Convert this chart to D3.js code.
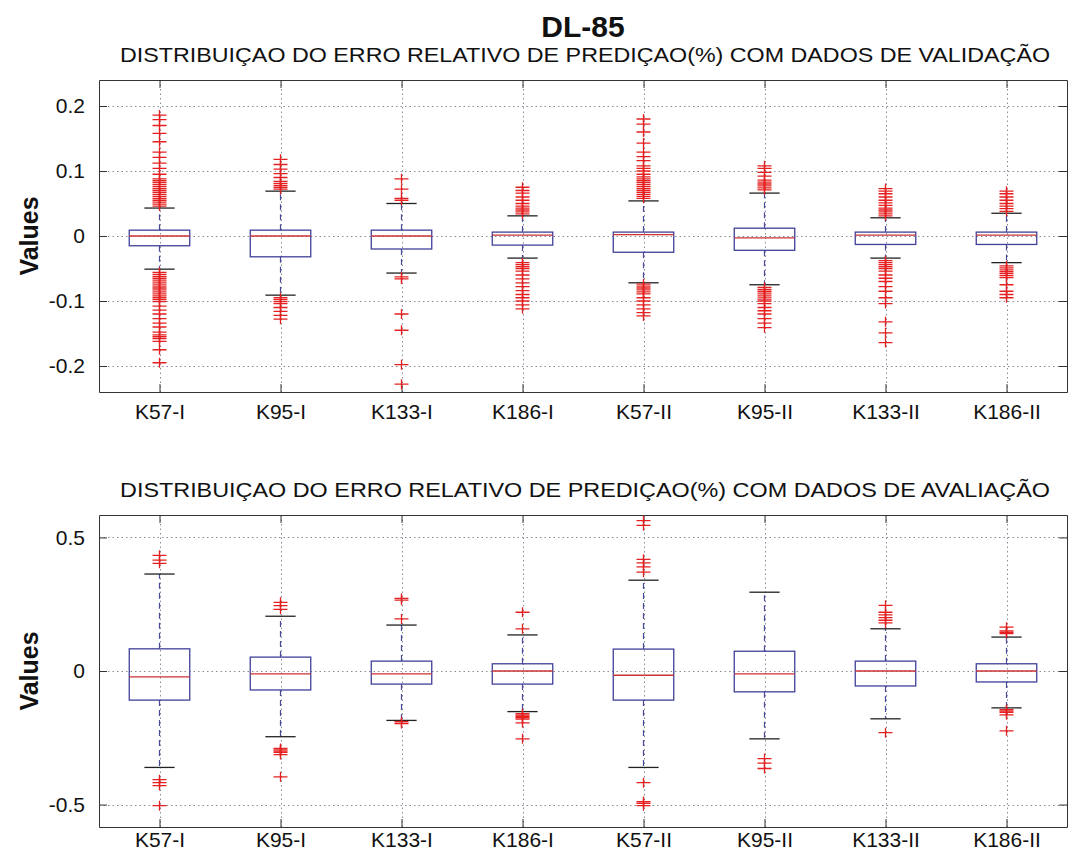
<!DOCTYPE html>
<html>
<head>
<meta charset="utf-8">
<script src="https://cdn.jsdelivr.net/npm/d3@7"></script>
<style>
  html, body { margin: 0; padding: 0; background: #fff; }
  svg { display: block; font-family: Arial, "Liberation Sans", sans-serif; }
</style>
</head>
<body>
<svg id="chart" width="1072" height="858"></svg>
<script>
// ---------- DATA ----------
const categories = ["K57-I", "K95-I", "K133-I", "K186-I", "K57-II", "K95-II", "K133-II", "K186-II"];

const titleText = "DL-85";
const topTitle = "DISTRIBUIÇAO DO ERRO RELATIVO DE PREDIÇAO(%) COM DADOS DE VALIDAÇÃO";
const botTitle = "DISTRIBUIÇAO DO ERRO RELATIVO DE PREDIÇAO(%) COM DADOS DE AVALIAÇÃO";
const yLabel = "Values";

// Top panel (validation)
const topTicks = [-0.2, -0.1, 0, 0.1, 0.2];
const topTickLabels = ["-0.2", "-0.1", "0", "0.1", "0.2"];
const topQ3  = [0.009, 0.009, 0.009, 0.006, 0.006, 0.012, 0.006, 0.006];
const topMed = [0.0, 0.0, 0.0, 0.0015, 0.002, -0.003, 0.0015, 0.0015];
const topQ1  = [-0.015, -0.032, -0.020, -0.014, -0.025, -0.022, -0.013, -0.013];
const topHi  = [0.043, 0.069, 0.050, 0.031, 0.054, 0.066, 0.028, 0.035];
const topLo  = [-0.051, -0.091, -0.057, -0.034, -0.072, -0.075, -0.034, -0.041];
const topOut = [
  [0.046,0.049,0.052,0.055,0.058,0.061,0.064,0.067,0.070,0.073,0.076,0.079,0.082,0.085,0.088,0.095,0.104,0.112,0.121,0.129,0.145,0.158,0.170,0.179,0.186,
   -0.056,-0.059,-0.062,-0.065,-0.068,-0.071,-0.074,-0.077,-0.080,-0.083,-0.086,-0.089,-0.092,-0.095,-0.098,-0.101,-0.108,-0.114,-0.120,-0.127,-0.134,-0.140,-0.148,-0.152,-0.155,-0.158,-0.162,-0.175,-0.195],
  [0.072,0.075,0.078,0.081,0.084,0.090,0.096,0.103,0.110,0.118,
   -0.095,-0.098,-0.101,-0.104,-0.110,-0.116,-0.122,-0.128],
  [0.055,0.058,0.072,0.088,
   -0.063,-0.066,-0.120,-0.145,-0.198,-0.228],
  [0.034,0.037,0.040,0.043,0.046,0.050,0.055,0.060,0.066,0.070,0.075,
   -0.041,-0.044,-0.047,-0.050,-0.054,-0.060,-0.066,-0.072,-0.078,-0.084,-0.090,-0.095,-0.100,-0.106,-0.112],
  [0.058,0.061,0.064,0.067,0.070,0.073,0.076,0.079,0.082,0.085,0.088,0.091,0.095,0.100,0.104,0.108,0.116,0.122,0.129,0.143,0.160,0.172,0.180,
   -0.074,-0.077,-0.080,-0.083,-0.086,-0.089,-0.095,-0.100,-0.106,-0.112,-0.118,-0.123],
  [0.071,0.074,0.077,0.080,0.083,0.086,0.092,0.098,0.104,0.108,
   -0.079,-0.082,-0.085,-0.088,-0.091,-0.094,-0.097,-0.100,-0.104,-0.110,-0.115,-0.120,-0.127,-0.134,-0.141],
  [0.031,0.034,0.037,0.040,0.043,0.047,0.051,0.055,0.060,0.065,0.069,0.073,
   -0.038,-0.041,-0.044,-0.047,-0.050,-0.054,-0.060,-0.065,-0.070,-0.078,-0.085,-0.095,-0.104,-0.132,-0.149,-0.164],
  [0.038,0.042,0.046,0.050,0.055,0.060,0.065,0.069,
   -0.046,-0.049,-0.052,-0.055,-0.058,-0.061,-0.064,-0.075,-0.085,-0.090,-0.095]
];

// Bottom panel (evaluation)
const botTicks = [-0.5, 0, 0.5];
const botTickLabels = ["-0.5", "0", "0.5"];
const botQ3  = [0.083, 0.052, 0.037, 0.027, 0.082, 0.074, 0.037, 0.027];
const botMed = [-0.022, -0.011, -0.011, 0.0, -0.016, -0.011, 0.0, 0.0];
const botQ1  = [-0.109, -0.071, -0.049, -0.049, -0.109, -0.078, -0.056, -0.041];
const botHi  = [0.363, 0.205, 0.172, 0.135, 0.340, 0.295, 0.158, 0.127];
const botLo  = [-0.361, -0.246, -0.185, -0.152, -0.361, -0.254, -0.179, -0.138];
const botOut = [
  [0.403,0.415,0.433,-0.407,-0.418,-0.429,-0.504],
  [0.231,0.245,0.257,-0.290,-0.295,-0.300,-0.305,-0.313,-0.396],
  [0.195,0.265,0.272,-0.190,-0.197],
  [0.158,0.220,-0.160,-0.165,-0.170,-0.175,-0.180,-0.194,-0.254],
  [0.370,0.390,0.405,0.418,0.545,0.563,-0.418,-0.489,-0.495,-0.504],
  [-0.328,-0.345,-0.365],
  [0.180,0.190,0.200,0.210,0.220,0.246,-0.231],
  [0.140,0.145,0.150,0.164,-0.145,-0.150,-0.155,-0.164,-0.224]
];

// ---------- DRAW ----------
const svg = d3.select("#chart");
const left = 99, right = 1067;

const x = d3.scalePoint().domain(categories).range([left, right]).padding(0.5);
const step = x.step();

svg.append("text").attr("x", 583).attr("y", 37).attr("text-anchor", "middle")
  .attr("font-size", 30).attr("font-weight", "bold").attr("fill", "#111").text(titleText);

function panel(cfg) {
  const y = d3.scaleLinear().domain(cfg.domain).range([cfg.bottom, cfg.top]);
  const g = svg.append("g");

  // subtitle
  g.append("text").attr("x", 585).attr("y", cfg.titleY).attr("text-anchor", "middle")
    .attr("font-size", 21).attr("fill", "#111")
    .attr("textLength", 930).attr("lengthAdjust", "spacingAndGlyphs")
    .text(cfg.title);

  // grid
  const grid = g.append("g").attr("stroke", "#8a8a9a").attr("stroke-width", 1)
    .attr("stroke-dasharray", "1.5,3");
  grid.selectAll("line.gy").data(cfg.ticks).join("line")
    .attr("x1", left).attr("x2", right)
    .attr("y1", d => Math.round(y(d)) + 0.5).attr("y2", d => Math.round(y(d)) + 0.5);
  grid.selectAll("line.gx").data(categories).join("line")
    .attr("y1", cfg.top).attr("y2", cfg.bottom)
    .attr("x1", d => Math.round(x(d)) + 0.5).attr("x2", d => Math.round(x(d)) + 0.5);

  // axes (ticks inward)
  const yAxisL = d3.axisLeft(y).tickValues(cfg.ticks).tickFormat((d, i) => cfg.tickLabels[i])
    .tickSizeInner(-8).tickSizeOuter(0).tickPadding(16);
  const yAxisR = d3.axisRight(y).tickValues(cfg.ticks).tickFormat("")
    .tickSizeInner(-8).tickSizeOuter(0);
  const xAxisB = d3.axisBottom(x).tickSizeInner(-8).tickSizeOuter(0).tickPadding(0);
  const xAxisT = d3.axisTop(x).tickFormat("").tickSizeInner(-8).tickSizeOuter(0);

  const gl = g.append("g").attr("transform", `translate(${left},0)`).call(yAxisL);
  const gr = g.append("g").attr("transform", `translate(${right},0)`).call(yAxisR);
  const gb = g.append("g").attr("transform", `translate(0,${cfg.bottom})`).call(xAxisB);
  const gt = g.append("g").attr("transform", `translate(0,${cfg.top})`).call(xAxisT);
  [gl, gr, gb, gt].forEach(a => {
    a.selectAll("path").attr("stroke", "#333");
    a.selectAll("line").attr("stroke", "#333");
    a.selectAll("text").attr("font-size", 21).attr("fill", "#111")
      .attr("font-family", "Arial, 'Liberation Sans', sans-serif");
  });
  gl.selectAll("text").attr("dx", 2);
  gb.selectAll("text").attr("y", cfg.labelBaseline).attr("dy", null);

  // y label
  g.append("text")
    .attr("transform", `translate(38,${(cfg.top + cfg.bottom) / 2}) rotate(-90)`)
    .attr("text-anchor", "middle").attr("font-size", 25).attr("font-weight", "bold")
    .attr("fill", "#111").text(yLabel);

  // boxes
  const bw = step * 0.5, cw = step * 0.25;
  categories.forEach((c, i) => {
    const cx = x(c);
    const bg = g.append("g");
    // whiskers
    bg.append("line").attr("x1", cx).attr("x2", cx)
      .attr("y1", y(cfg.q3[i])).attr("y2", y(cfg.hi[i]))
      .attr("stroke", "#4a4a9a").attr("stroke-width", 1.2).attr("stroke-dasharray", "6,4");
    bg.append("line").attr("x1", cx).attr("x2", cx)
      .attr("y1", y(cfg.q1[i])).attr("y2", y(cfg.lo[i]))
      .attr("stroke", "#4a4a9a").attr("stroke-width", 1.2).attr("stroke-dasharray", "6,4");
    // caps
    [cfg.hi[i], cfg.lo[i]].forEach(v => {
      bg.append("line").attr("x1", cx - cw / 2).attr("x2", cx + cw / 2)
        .attr("y1", y(v)).attr("y2", y(v)).attr("stroke", "#222").attr("stroke-width", 1.3);
    });
    // box
    bg.append("rect").attr("x", cx - bw / 2).attr("width", bw)
      .attr("y", y(cfg.q3[i])).attr("height", y(cfg.q1[i]) - y(cfg.q3[i]))
      .attr("fill", "none").attr("stroke", "#40409a").attr("stroke-width", 1.3);
    // median
    bg.append("line").attr("x1", cx - bw / 2).attr("x2", cx + bw / 2)
      .attr("y1", y(cfg.med[i])).attr("y2", y(cfg.med[i]))
      .attr("stroke", "#cc3333").attr("stroke-width", 1.3);
    // outliers
    const pw = 7, ph = 5;
    bg.selectAll("path.out").data(cfg.out[i]).join("path")
      .attr("d", v => `M${cx - pw},${y(v)}H${cx + pw}M${cx},${y(v) - ph}V${y(v) + ph}`)
      .attr("stroke", "#e62020").attr("stroke-width", 1.3).attr("fill", "none");
  });
}

panel({
  top: 80, bottom: 392, domain: [-0.24, 0.24], titleY: 62, title: topTitle,
  ticks: topTicks, tickLabels: topTickLabels, labelBaseline: 27,
  q3: topQ3, med: topMed, q1: topQ1, hi: topHi, lo: topLo, out: topOut
});
panel({
  top: 515, bottom: 827, domain: [-0.584, 0.584], titleY: 497, title: botTitle,
  ticks: botTicks, tickLabels: botTickLabels, labelBaseline: 20,
  q3: botQ3, med: botMed, q1: botQ1, hi: botHi, lo: botLo, out: botOut
});
</script>
</body>
</html>
